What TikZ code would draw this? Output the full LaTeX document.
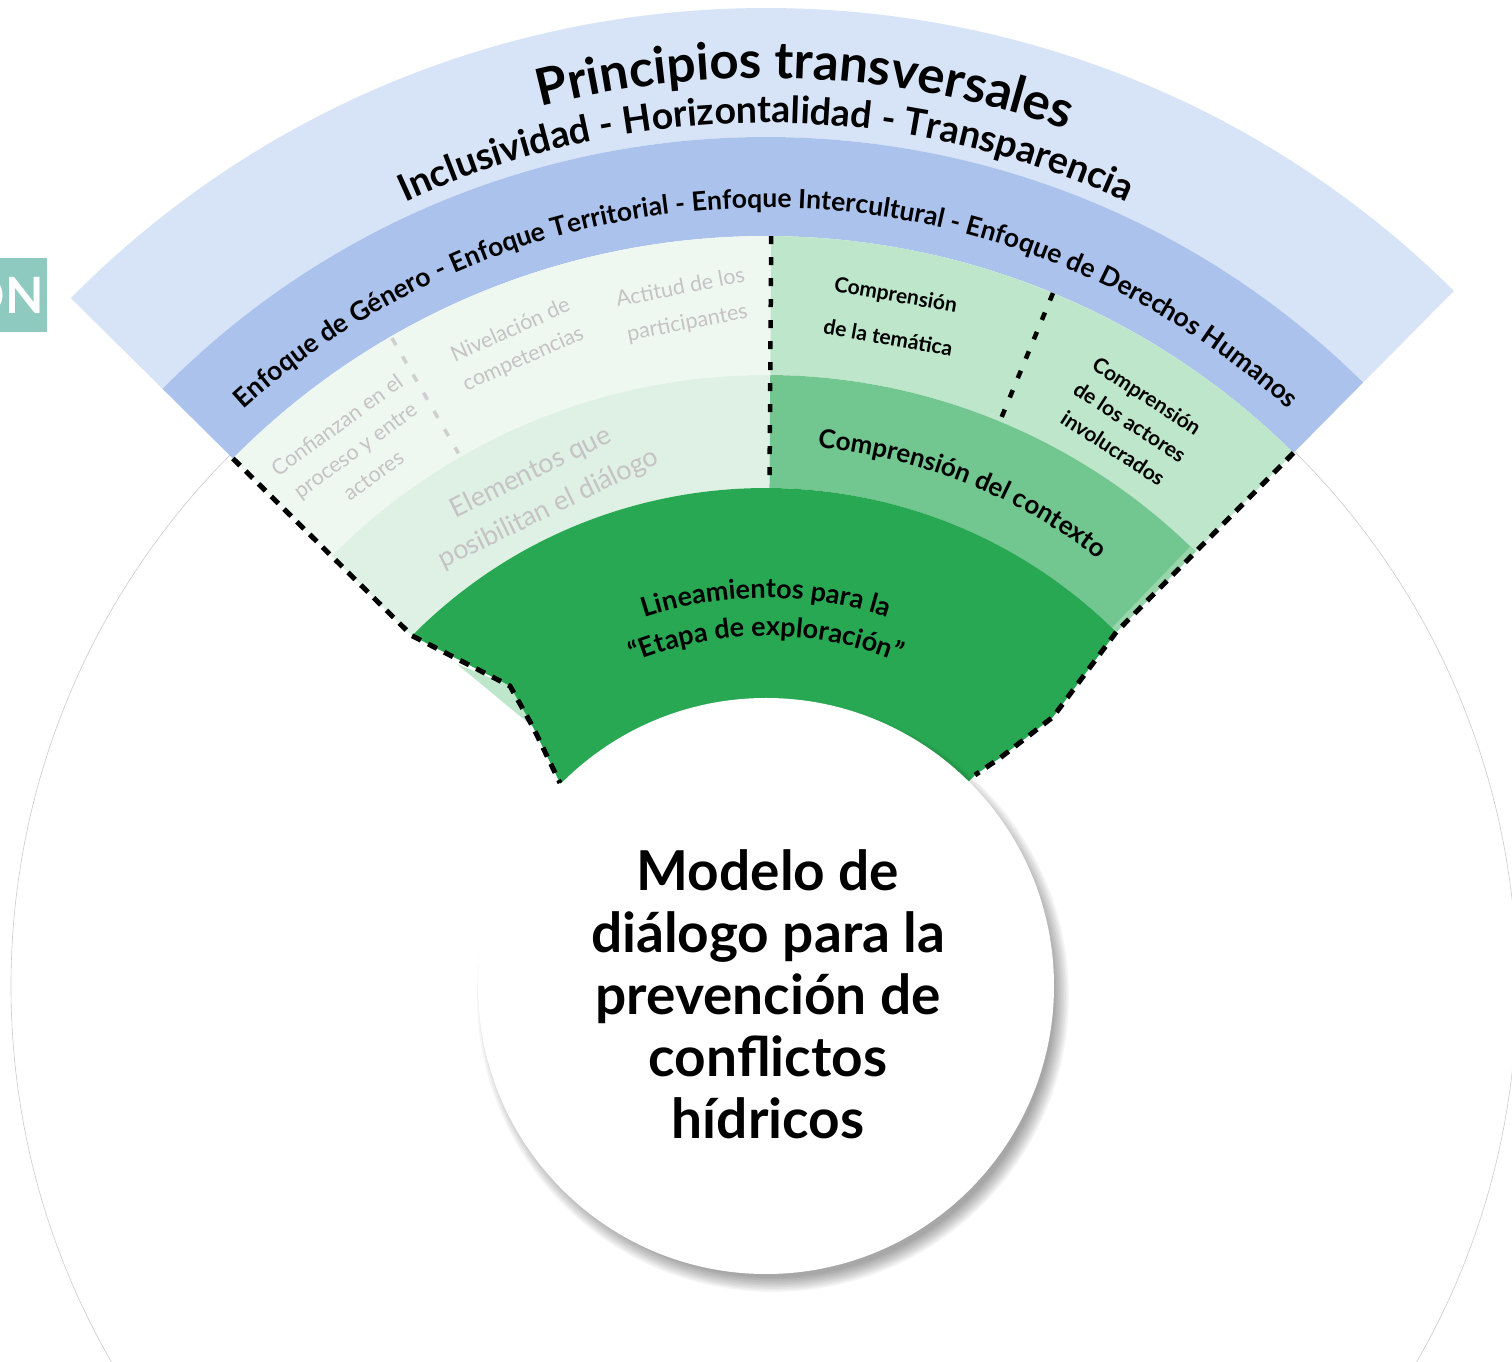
\documentclass[tikz,border=0pt]{standalone}
\usepackage{fontspec}
\setmainfont{Lato}
\usetikzlibrary{decorations.text}

\definecolor{cielo}{HTML}{D7E3F6}
\definecolor{azul}{HTML}{ABC3EC}
\definecolor{palido}{HTML}{EEF8F1}
\definecolor{palidob}{HTML}{DFF1E5}
\definecolor{verdeclaro}{HTML}{BDE6CA}
\definecolor{verdemedio}{HTML}{72C68F}
\definecolor{franja}{HTML}{98D5AA}
\definecolor{verdeoscuro}{HTML}{28A852}
\definecolor{gris}{HTML}{C6C2C5}
\definecolor{turquesa}{HTML}{8ECABF}

% annular sector: colour, start angle, end angle, outer radius, inner radius
\newcommand{\banda}[5]{%
  \fill[#1] (#2:#4pt) arc[start angle=#2, end angle=#3, radius=#4pt]
    -- (#3:#5pt) arc[start angle=#3, end angle=#2, radius=#5pt] -- cycle;}

\def\hi{135.3}
\def\lo{45.3}
\def\eje{89.6}

\begin{document}
\begin{tikzpicture}[x=1pt, y=1pt,
  every node/.append style={inner sep=0pt},
  frontera/.style={line width=5pt, dash pattern=on 10pt off 8pt},
  divisor/.style={line width=4.5pt, dash pattern=on 8pt off 13pt},
  tenue/.style={text=gris, align=center, font=\fontsize{21.5}{31}\selectfont},
  rotulo/.style={align=center, font=\bfseries\fontsize{21}{31}\selectfont},
  arco/.style={decorate, decoration={text along path, text align=center, text={#1}}}]

\useasboundingbox (-766,-376) rectangle (746,986);
\fill[white] (-766,-376) rectangle (746,986);

% faint outer ring
\draw[gray!40, line width=0.6pt] (-2,0) circle (753pt);

% bands of the fan
\banda{cielo}{\hi}{\lo}{978}{849}
\banda{azul}{\hi}{\lo}{849}{750}
\banda{palido}{\hi}{\eje}{750}{611}
\banda{verdeclaro}{\eje}{\lo}{750}{611}
\banda{palidob}{\hi}{\eje}{611}{498}
\banda{verdemedio}{\eje}{\lo}{611}{498}
\banda{franja}{46.0}{\lo}{611}{498}

% lineamientos
\coordinate (nl1) at (-256,300);
\coordinate (nl2) at (-233,259);
\coordinate (nl3) at (-206,203);
\coordinate (nr1) at (287,269);
\coordinate (nr2) at (234,228);
\coordinate (nr3) at (209,211);
\fill[verdeclaro] (-309,322) -- (nl1) -- (nl2) -- cycle;
\fill[verdeoscuro] (\hi:498pt) arc[start angle=\hi, end angle=\lo, radius=498pt]
  -- (nr1) -- (nr2) -- (nr3) -- (0,0) -- (nl3) -- (nl2) -- (nl1) -- cycle;

% dashed borders
\draw[frontera] (\hi:750pt) -- (\hi:498pt) -- (nl1) -- (nl2) -- (nl3);
\draw[frontera] (\lo:750pt) -- (\lo:498pt) -- (nr1) -- (nr2) -- (nr3);
\draw[divisor] (\eje:750pt) -- (\eje:498pt);
\draw[divisor] (67.5:750pt) -- (67.5:612pt);
\draw[divisor, gris!80, line width=3.5pt] (120:748pt) -- (120:615pt);

% curved labels
\path[arco={|\bfseries\fontsize{51}{51}\selectfont|Principios transversales}]
  (135.3:908pt) arc[start angle=135.3, end angle=39.7, radius=908pt];
\path[arco={|\bfseries\fontsize{37.5}{38}\selectfont|Inclusividad - Horizontalidad - Transparencia}]
  (140:863pt) arc[start angle=140, end angle=40, radius=863pt];
\path[arco={|\bfseries\fontsize{26.5}{27}\selectfont|Enfoque de Género - Enfoque Territorial - Enfoque Intercultural - Enfoque de Derechos Humanos}]
  (150:778pt) arc[start angle=150, end angle=30, radius=778pt];
\path[arco={|\bfseries\fontsize{26}{26}\selectfont|Comprensión del contexto}]
  (100:541pt) arc[start angle=100, end angle=36.6, radius=541pt];
\path[arco={|\bfseries\fontsize{27}{27}\selectfont|Lineamientos para la}]
  (125:388pt) arc[start angle=125, end angle=55, radius=388pt];
\path[arco={|\bfseries\fontsize{27}{27}\selectfont|“Etapa de exploración”}]
  (125:350pt) arc[start angle=125, end angle=55, radius=350pt];

% faded elements
\node[tenue, rotate=36] (confianza) at (-411,536) {Confianzan en el\\proceso y entre\\actores};
\node[tenue, rotate=24] (nivelacion) at (-249,641) {Nivelación de\\competencias};
\node[tenue, rotate=11, font=\fontsize{21.5}{36}\selectfont] (actitud) at (-82,680) {Actitud de los\\participantes};
\node[tenue, rotate=26, font=\fontsize{27}{40}\selectfont] (elementos) at (-226,495) {Elementos que\\posibilitan el diálogo};

% understanding
\node[rotulo, rotate=-10, font=\bfseries\fontsize{21}{44}\selectfont] (tematica) at (126,670) {Comprensión\\de la temática};
\node[rotulo, rotate=-33] (actores) at (364,564) {Comprensión\\de los actores\\involucrados};

% centre
\foreach \k in {1,...,10}
  \fill[black, opacity=0.04] (7,-10) circle (280+1.6*\k);
\node[circle, fill=white, minimum size=576pt] (modelo) at (0,0) {};
\node[align=center, font=\bfseries\fontsize{55}{62}\selectfont] (titulo) at (2,-8)
  {Modelo de\\diálogo para la\\prevención de\\conflictos\\hídricos};

% tab on the left
\fill[turquesa] (-766,654) rectangle (-719,728);
\node[anchor=east, text=white, font=\bfseries\fontsize{50}{50}\selectfont] (pestana) at (-722,691) {ON};
\end{tikzpicture}
\end{document}
